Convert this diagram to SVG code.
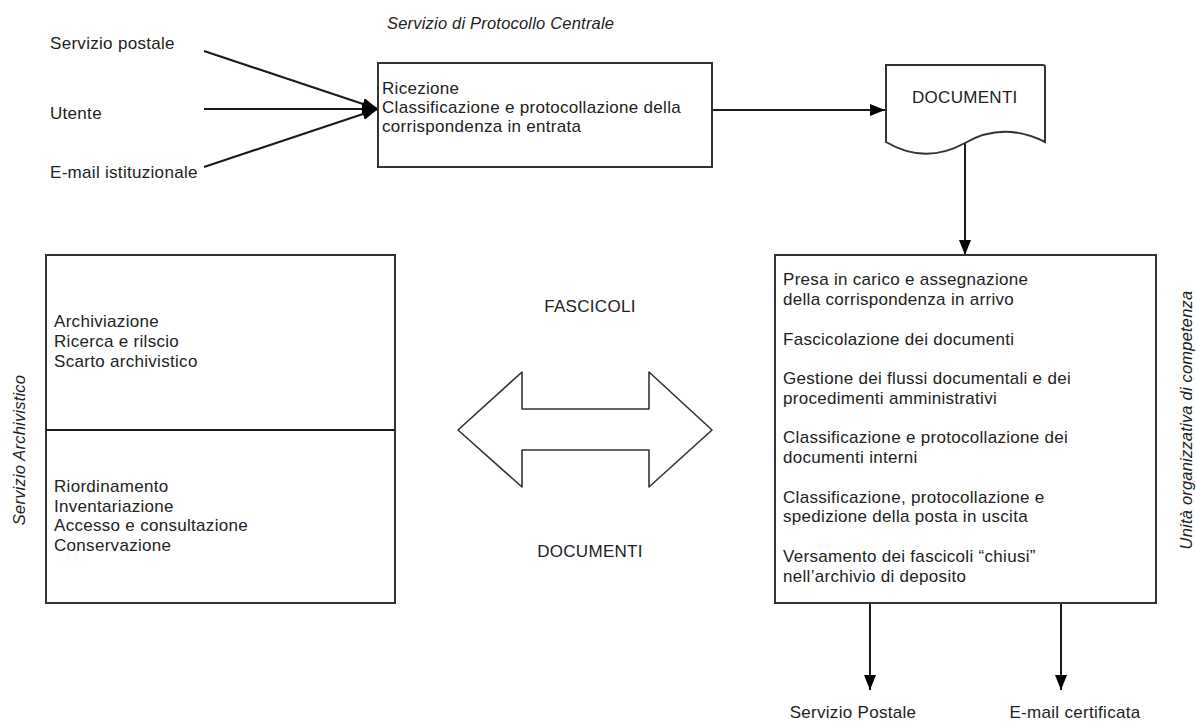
<svg xmlns="http://www.w3.org/2000/svg" width="1196" height="722" viewBox="0 0 1196 722">
<defs>
<style>
text{font-family:"Liberation Sans",Arial,sans-serif;font-size:17px;fill:#222;letter-spacing:0.3px}
.it{font-style:italic;font-size:16.5px;letter-spacing:0.2px}
.box{fill:#fff;stroke:#333;stroke-width:2}
.ln{fill:none;stroke:#1a1a1a;stroke-width:2}
.mid{text-anchor:middle}
</style>
<marker id="ah" viewBox="0 0 15 12" refX="15" refY="6" markerWidth="15" markerHeight="12" markerUnits="userSpaceOnUse" orient="auto">
<path d="M0,0 L15,6 L0,12 Z" fill="#000"/>
</marker>
<marker id="ahb" viewBox="0 0 16 12" refX="16" refY="6" markerWidth="16" markerHeight="12" markerUnits="userSpaceOnUse" orient="auto">
<path d="M0,0 L16,6 L0,12 Z" fill="#000"/>
</marker>
</defs>
<rect width="1196" height="722" fill="#fff"/>

<g id="connectors">
<line class="ln" x1="204" y1="51" x2="378" y2="109" marker-end="url(#ahb)"/>
<line class="ln" x1="204" y1="109" x2="378" y2="109" marker-end="url(#ahb)"/>
<line class="ln" x1="204" y1="167" x2="378" y2="109" marker-end="url(#ahb)"/>
<line class="ln" x1="712" y1="110" x2="885" y2="110" marker-end="url(#ah)"/>
<line class="ln" x1="965" y1="143" x2="965" y2="255" marker-end="url(#ah)"/>
<line class="ln" x1="870" y1="603" x2="870" y2="690" marker-end="url(#ah)"/>
<line class="ln" x1="1061" y1="603" x2="1061" y2="690" marker-end="url(#ah)"/>
</g>

<g id="src-postale"><text x="50" y="49">Servizio postale</text></g>
<g id="src-utente"><text x="50" y="119">Utente</text></g>
<g id="src-email"><text x="50" y="178">E-mail istituzionale</text></g>

<g id="protocollo">
<text class="it" x="387" y="29">Servizio di Protocollo Centrale</text>
<rect class="box" x="378" y="63" width="334" height="104"/>
<text x="382" y="94">Ricezione</text>
<text x="382" y="113">Classificazione e protocollazione della</text>
<text x="382" y="132">corrispondenza in entrata</text>
</g>

<g id="documenti-doc">
<path class="box" d="M886,142 L886,65 L1043,65 Q1045,65 1045,67 L1045,142 Q1003,121 965,143 Q925,165 886,142 Z"/>
<text x="912" y="103">DOCUMENTI</text>
</g>

<g id="archivio">
<rect class="box" x="46" y="255" width="349" height="348"/>
<line class="ln" x1="46" y1="430" x2="395" y2="430" stroke="#333"/>
<text x="54" y="327">Archiviazione</text>
<text x="54" y="347">Ricerca e rilscio</text>
<text x="54" y="367">Scarto archivistico</text>
<text x="54" y="492">Riordinamento</text>
<text x="54" y="512">Inventariazione</text>
<text x="54" y="531">Accesso e consultazione</text>
<text x="54" y="551">Conservazione</text>
<text class="it mid" transform="translate(25,450) rotate(-90)">Servizio Archivistico</text>
</g>

<g id="scambio">
<text class="mid" x="590" y="312">FASCICOLI</text>
<polygon points="458,430 522,372 522,409 649,409 649,372 712,430 649,487 649,450 522,450 522,487" fill="#fff" stroke="#333" stroke-width="1.6" stroke-linejoin="round"/>
<text class="mid" x="590" y="557">DOCUMENTI</text>
</g>

<g id="unita">
<rect class="box" x="775" y="255" width="381" height="348"/>
<text x="783" y="285">Presa in carico e assegnazione</text>
<text x="783" y="305">della corrispondenza in arrivo</text>
<text x="783" y="345">Fascicolazione dei documenti</text>
<text x="783" y="384">Gestione dei flussi documentali e dei</text>
<text x="783" y="404">procedimenti amministrativi</text>
<text x="783" y="443">Classificazione e protocollazione dei</text>
<text x="783" y="463">documenti interni</text>
<text x="783" y="503">Classificazione, protocollazione e</text>
<text x="783" y="522">spedizione della posta in uscita</text>
<text x="783" y="562">Versamento dei fascicoli “chiusi”</text>
<text x="783" y="582">nell’archivio di deposito</text>
<text class="it mid" transform="translate(1192,420) rotate(-90)">Unità organizzativa di competenza</text>
</g>

<g id="dest-postale"><text class="mid" x="853" y="718">Servizio Postale</text></g>
<g id="dest-email"><text class="mid" x="1075" y="718">E-mail certificata</text></g>
</svg>
